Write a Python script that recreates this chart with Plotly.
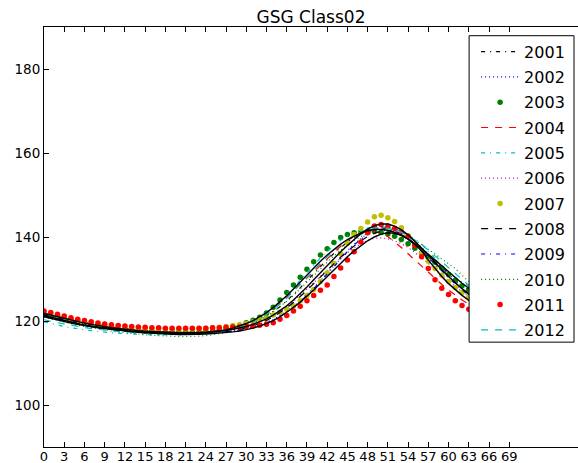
import plotly.graph_objects as go

# day index along the season
days = list(range(70))

# yearly index curves
y2001 = [121.5, 121.1, 120.7, 120.3, 119.9, 119.6, 119.3, 119.0, 118.7, 118.5, 118.3, 118.1, 117.9, 117.7, 117.6, 117.5, 117.4, 117.3, 117.2, 117.2,
         117.1, 117.1, 117.1, 117.2, 117.3, 117.4, 117.6, 117.8, 118.1, 118.5, 119.0, 119.6, 120.3, 121.2, 122.2, 123.4, 124.8, 126.3, 127.9, 129.6,
         131.3, 133.0, 134.6, 136.1, 137.5, 138.8, 139.9, 140.8, 141.5, 142.0, 142.2, 142.0, 141.5, 140.7, 139.7, 138.5, 137.2, 135.8, 134.3, 132.8,
         131.3, 129.9, 128.5, 127.2, 126.0, 124.9, 123.9, 123.0, 122.2, 121.5]
y2002 = [121.9, 121.5, 121.1, 120.7, 120.3, 119.9, 119.6, 119.3, 119.0, 118.7, 118.5, 118.3, 118.1, 117.9, 117.8, 117.6, 117.5, 117.4, 117.3, 117.3,
         117.2, 117.2, 117.2, 117.2, 117.2, 117.3, 117.4, 117.5, 117.7, 117.9, 118.2, 118.6, 119.1, 119.7, 120.4, 121.3, 122.3, 123.5, 124.8, 126.3,
         127.9, 129.6, 131.4, 133.2, 135.0, 136.7, 138.3, 139.7, 140.9, 141.7, 142.2, 142.3, 142.0, 141.3, 140.3, 139.0, 137.6, 136.0, 134.4, 132.8,
         131.2, 129.7, 128.3, 127.0, 125.8, 124.7, 123.7, 122.8, 122.0, 121.3]
y2003 = [121.8, 121.4, 121.0, 120.6, 120.3, 119.9, 119.6, 119.3, 119.0, 118.8, 118.5, 118.3, 118.1, 117.9, 117.8, 117.6, 117.5, 117.4, 117.3, 117.3,
         117.3, 117.3, 117.3, 117.4, 117.5, 117.6, 117.8, 118.1, 118.5, 119.0, 119.6, 120.2, 120.9, 121.9, 123.3, 125.0, 126.8, 128.6, 130.4, 132.3,
         134.1, 135.7, 137.2, 138.7, 139.9, 140.6, 141.0, 141.2, 141.3, 141.3, 141.1, 140.7, 140.2, 139.4, 138.4, 137.3, 136.2, 135.1, 134.0, 132.6,
         131.1, 129.7, 128.4, 127.4, 126.4, 125.4, 124.5, 123.7, 122.9, 122.2]
y2004 = [121.9, 121.5, 121.1, 120.7, 120.3, 120.0, 119.7, 119.4, 119.1, 118.9, 118.6, 118.4, 118.2, 118.0, 117.9, 117.7, 117.6, 117.5, 117.4, 117.4,
         117.3, 117.3, 117.3, 117.4, 117.5, 117.6, 117.8, 118.0, 118.3, 118.7, 119.2, 119.9, 120.8, 121.8, 123.0, 124.3, 125.7, 127.2, 128.7, 130.2,
         131.7, 133.3, 134.9, 136.4, 137.8, 139.1, 140.2, 140.9, 141.3, 141.3, 140.9, 140.1, 138.9, 137.5, 136.0, 134.5, 133.0, 131.5, 130.1, 128.7,
         127.4, 126.1, 125.0, 124.0, 123.1, 122.3, 121.6, 121.0, 120.5, 120.1]
y2005 = [119.8, 119.4, 119.0, 118.7, 118.4, 118.1, 117.9, 117.7, 117.5, 117.3, 117.2, 117.1, 117.0, 116.9, 116.8, 116.8, 116.7, 116.7, 116.7, 116.7,
         116.7, 116.8, 116.8, 116.9, 117.1, 117.3, 117.6, 117.9, 118.3, 118.8, 119.4, 120.1, 121.0, 122.0, 123.2, 124.6, 126.2, 127.9, 129.7, 131.5,
         133.3, 135.0, 136.6, 138.0, 139.2, 140.2, 141.0, 141.7, 142.1, 142.4, 142.5, 142.3, 141.9, 141.3, 140.5, 139.5, 138.4, 136.6, 135.0, 133.4,
         131.6, 130.3, 129.3, 128.2, 127.1, 126.1, 125.2, 124.4, 123.6, 122.9]
y2006 = [121.3, 120.9, 120.5, 120.1, 119.8, 119.4, 119.1, 118.8, 118.6, 118.3, 118.1, 117.9, 117.7, 117.6, 117.4, 117.3, 117.2, 117.1, 117.1, 117.0,
         117.0, 117.0, 117.0, 117.0, 117.1, 117.2, 117.3, 117.5, 117.8, 118.1, 118.5, 119.0, 119.6, 120.3, 121.2, 122.2, 123.4, 124.7, 126.1, 127.6,
         129.1, 130.7, 132.2, 133.6, 135.0, 136.3, 137.4, 138.4, 139.2, 139.7, 139.8, 139.6, 139.1, 138.4, 137.5, 136.4, 135.1, 133.7, 132.3, 130.9,
         129.5, 128.2, 127.0, 125.9, 124.9, 124.0, 123.2, 122.5, 121.8, 121.2]
y2007 = [122.1, 121.7, 121.3, 120.9, 120.5, 120.2, 119.9, 119.6, 119.4, 119.2, 119.0, 118.8, 118.7, 118.5, 118.4, 118.3, 118.2, 118.2, 118.1, 118.1,
         118.1, 118.1, 118.1, 118.2, 118.3, 118.4, 118.5, 118.7, 118.9, 119.1, 119.4, 119.8, 120.3, 120.8, 121.4, 122.1, 122.8, 123.6, 124.8, 126.1,
         127.5, 129.4, 131.4, 133.7, 136.0, 138.5, 140.6, 142.0, 143.6, 144.8, 145.2, 144.6, 143.7, 142.2, 140.3, 138.3, 136.1, 134.2, 132.5, 130.9,
         129.4, 128.0, 126.8, 125.7, 124.6, 123.6, 122.7, 121.9, 121.2, 120.6]
y2008 = [121.2, 120.8, 120.4, 120.0, 119.6, 119.3, 119.0, 118.7, 118.4, 118.2, 118.0, 117.8, 117.6, 117.5, 117.3, 117.2, 117.1, 117.0, 117.0, 116.9,
         116.9, 116.9, 116.9, 116.9, 117.0, 117.1, 117.2, 117.4, 117.6, 117.9, 118.3, 118.8, 119.4, 120.1, 121.0, 122.0, 123.1, 124.4, 125.8, 127.3,
         128.9, 130.5, 132.1, 133.7, 135.2, 136.6, 137.9, 139.1, 140.1, 140.9, 141.4, 141.5, 141.2, 140.5, 139.5, 138.2, 136.8, 135.3, 133.7, 132.1,
         130.6, 129.1, 127.7, 126.4, 125.2, 124.1, 123.1, 122.2, 121.4, 120.7]
y2009 = [121.6, 121.2, 120.8, 120.4, 120.0, 119.7, 119.4, 119.1, 118.8, 118.6, 118.3, 118.1, 117.9, 117.7, 117.6, 117.4, 117.3, 117.2, 117.1, 117.1,
         117.0, 117.0, 117.0, 117.0, 117.0, 117.1, 117.2, 117.3, 117.5, 117.7, 118.0, 118.4, 118.9, 119.5, 120.2, 121.1, 122.1, 123.3, 124.6, 126.1,
         127.7, 129.4, 131.2, 133.0, 134.8, 136.5, 138.1, 139.5, 140.6, 141.4, 141.8, 141.8, 141.4, 140.6, 139.5, 138.2, 136.7, 135.1, 133.5, 131.9,
         130.3, 128.8, 127.4, 126.1, 124.9, 123.8, 122.8, 121.9, 121.1, 120.4]
y2010 = [120.9, 120.5, 120.1, 119.7, 119.3, 119.0, 118.7, 118.4, 118.1, 117.9, 117.6, 117.4, 117.2, 117.0, 116.9, 116.7, 116.6, 116.5, 116.4, 116.3,
         116.3, 116.3, 116.3, 116.4, 116.5, 116.7, 116.9, 117.2, 117.6, 118.1, 118.7, 119.4, 120.2, 121.1, 122.2, 123.4, 124.7, 126.1, 127.6, 129.2,
         130.8, 132.4, 134.0, 135.5, 136.9, 138.1, 139.2, 140.1, 140.8, 141.3, 141.5, 141.5, 141.2, 140.7, 140.0, 139.2, 138.2, 137.1, 136.0, 134.9,
         133.8, 132.5, 130.9, 129.4, 128.0, 126.7, 125.5, 124.4, 123.4, 122.5]
y2011 = [122.4, 122.0, 121.6, 121.2, 120.8, 120.4, 120.1, 119.8, 119.5, 119.3, 119.1, 118.9, 118.8, 118.7, 118.6, 118.5, 118.4, 118.4, 118.3, 118.3,
         118.3, 118.3, 118.3, 118.3, 118.3, 118.4, 118.4, 118.5, 118.6, 118.6, 118.7, 118.8, 119.0, 119.2, 119.6, 120.4, 121.3, 122.4, 123.5, 124.8,
         126.1, 127.3, 128.6, 130.6, 132.6, 134.5, 136.5, 138.8, 141.0, 142.6, 143.0, 142.6, 142.0, 141.2, 140.2, 138.0, 135.3, 132.5, 129.8, 127.8,
         126.3, 124.8, 123.7, 122.8, 122.0, 121.3, 120.7, 120.2, 119.8, 119.4]
y2012 = [120.3, 119.9, 119.6, 119.3, 119.0, 118.7, 118.5, 118.2, 118.0, 117.8, 117.7, 117.5, 117.4, 117.3, 117.2, 117.1, 117.0, 117.0, 116.9, 116.9,
         116.9, 116.9, 117.0, 117.0, 117.1, 117.3, 117.5, 117.8, 118.1, 118.6, 119.1, 119.8, 120.6, 121.6, 122.7, 124.0, 125.4, 127.0, 128.6, 130.3,
         132.0, 133.7, 135.3, 136.8, 138.2, 139.4, 140.4, 141.2, 141.8, 142.1, 142.2, 142.1, 141.7, 141.1, 140.3, 139.3, 138.2, 136.9, 135.5, 134.1,
         132.6, 131.2, 129.8, 128.5, 127.3, 126.2, 125.2, 124.3, 123.5, 122.8]

# unlabelled reference curves (solid black)
ref_early = [121.0, 120.6, 120.2, 119.8, 119.5, 119.2, 118.9, 118.6, 118.4, 118.2, 118.0, 117.8, 117.6, 117.5, 117.4, 117.3, 117.2, 117.1, 117.1, 117.0,
             117.0, 117.0, 117.0, 117.1, 117.2, 117.4, 117.6, 117.9, 118.3, 118.8, 119.4, 120.1, 121.0, 122.0, 123.2, 124.5, 126.0, 127.6, 129.3, 131.0,
             132.6, 134.2, 135.7, 137.1, 138.3, 139.4, 140.3, 141.0, 141.5, 141.8, 141.8, 141.6, 141.1, 140.4, 139.5, 138.4, 137.2, 135.9, 134.5, 133.1,
             131.7, 130.3, 129.0, 127.8, 126.7, 125.6, 124.6, 123.7, 122.9, 122.2]
ref_mid = [121.8, 121.4, 121.0, 120.6, 120.2, 119.8, 119.5, 119.2, 118.9, 118.7, 118.4, 118.2, 118.0, 117.9, 117.7, 117.6, 117.5, 117.4, 117.3, 117.3,
           117.2, 117.2, 117.2, 117.2, 117.3, 117.4, 117.5, 117.7, 118.0, 118.3, 118.7, 119.2, 119.8, 120.5, 121.4, 122.4, 123.6, 125.0, 126.5, 128.1,
           129.8, 131.5, 133.2, 134.9, 136.5, 138.0, 139.5, 140.8, 141.9, 142.7, 143.1, 143.1, 142.6, 141.7, 140.5, 139.0, 137.4, 135.7, 133.9, 132.2,
           130.6, 129.1, 127.7, 126.4, 125.3, 124.3, 123.4, 122.6, 121.9, 121.3]
ref_late = [121.3, 120.9, 120.5, 120.1, 119.7, 119.4, 119.0, 118.7, 118.5, 118.2, 118.0, 117.8, 117.6, 117.4, 117.3, 117.2, 117.1, 117.0, 116.9, 116.9,
            116.8, 116.8, 116.8, 116.9, 116.9, 117.0, 117.1, 117.2, 117.4, 117.6, 117.9, 118.3, 118.8, 119.4, 120.1, 121.0, 122.0, 123.2, 124.5, 125.9,
            127.4, 129.0, 130.6, 132.2, 133.8, 135.3, 136.7, 138.0, 139.1, 140.0, 140.7, 141.0, 140.9, 140.4, 139.5, 138.2, 136.7, 134.5, 132.5, 130.6,
            128.9, 127.4, 126.1, 124.9, 123.8, 122.8, 121.9, 121.1, 120.5, 119.9]

x_ticks = list(range(0, 70, 3))
y_ticks = [100, 120, 140, 160, 180]

BLUE, GREEN, RED, CYAN, MAGENTA, YELLOW, BLACK = (
    "#0000ff", "#008000", "#ff0000", "#00bfbf", "#bf00bf", "#bfbf00", "#000000")
DASH = "7px,7px"
DASHDOT = "4px,5px,1px,5px"
DOT = "1px,3px"

# (label, values, colour, style) -- style is a dash pattern or "dots" for markers
series = [
    ("2001", y2001, BLACK, DASHDOT),
    ("2002", y2002, BLUE, DOT),
    ("2003", y2003, GREEN, "dots"),
    ("2004", y2004, RED, DASH),
    ("2005", y2005, CYAN, DASHDOT),
    ("2006", y2006, MAGENTA, DOT),
    ("2007", y2007, YELLOW, "dots"),
    ("2008", y2008, BLACK, DASH),
    ("2009", y2009, BLUE, DASHDOT),
    ("2010", y2010, GREEN, DOT),
    ("2011", y2011, RED, "dots"),
    ("2012", y2012, CYAN, DASH),
]

fig = go.Figure()
for label, vals, color, style in series:
    if style == "dots":
        fig.add_trace(go.Scatter(x=days, y=vals, name=label, legendgroup=label,
                                 mode="markers", marker=dict(color=color, size=5.5)))
    else:
        fig.add_trace(go.Scatter(x=days, y=vals, name=label, legendgroup=label,
                                 mode="lines", line=dict(color=color, width=1.2, dash=style)))

for vals in (ref_early, ref_mid, ref_late):
    fig.add_trace(go.Scatter(x=days, y=vals, mode="lines", showlegend=False,
                             line=dict(color=BLACK, width=1.4)))

W, H = 578, 463
L, R, T, B = 43.5, 0, 27.3, 16.3
plot_w = W - L - R
plot_h = H - T - B


def px_x(p):
    return (p - L) / plot_w


def px_y(p):
    return (H - B - p) / plot_h


# legend frame
fig.add_shape(type="rect", xref="paper", yref="paper",
              x0=px_x(469), x1=px_x(574), y0=px_y(342), y1=px_y(36),
              fillcolor="white", line=dict(color="black", width=1), layer="above")

fig.update_layout(
    width=W, height=H,
    margin=dict(l=L, r=R, t=T, b=B, pad=0),
    paper_bgcolor="white", plot_bgcolor="white",
    font=dict(family="DejaVu Sans", size=13.5, color="black"),
    title=dict(text="GSG Class02", x=0.5, xref="paper", xanchor="center",
               y=1 - 17 / H, yref="container", yanchor="middle",
               font=dict(size=17, color="black")),
    showlegend=True,
    legend=dict(x=px_x(476), y=px_y(35), xanchor="left", yanchor="top",
                bgcolor="rgba(0,0,0,0)", borderwidth=0,
                font=dict(size=16, color="black"), tracegroupgap=1.5,
                itemwidth=38),
    xaxis=dict(range=[0, 79.2], tickvals=x_ticks, ticktext=[str(v) for v in x_ticks],
               ticks="inside", ticklen=5, tickwidth=1, tickcolor="black",
               showline=True, linecolor="black", linewidth=1, mirror="ticks",
               showgrid=False, zeroline=False, automargin=False,
               ticklabelstandoff=-3, tickfont=dict(size=13)),
    yaxis=dict(range=[90, 190], tickvals=y_ticks,
               ticks="inside", ticklen=5, tickwidth=1, tickcolor="black",
               showline=True, linecolor="black", linewidth=1, mirror=False,
               showgrid=False, zeroline=False, automargin=False,
               tickfont=dict(size=13.5)),
)

fig.write_html("out.html")
